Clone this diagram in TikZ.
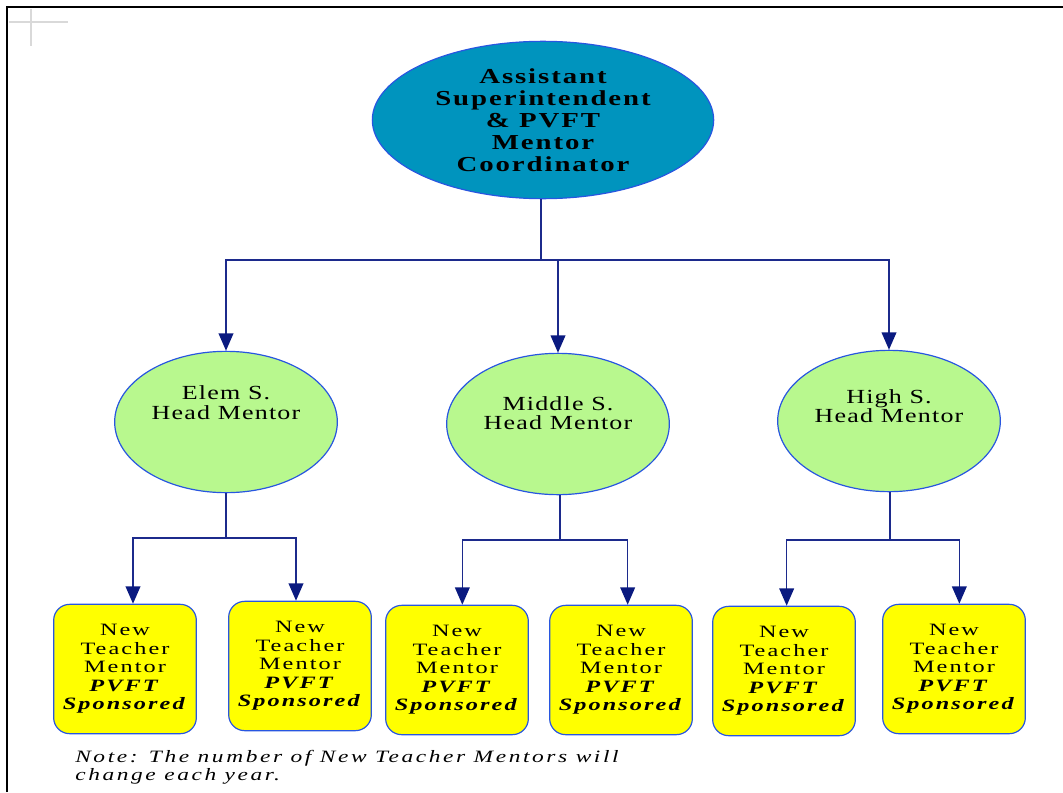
\documentclass[tikz,border=0pt]{standalone}
\usepackage{fontspec}
\setmainfont{Liberation Serif}
\newfontfamily\headfont{Liberation Serif}[FakeStretch=1.35,LetterSpace=9]
\newfontfamily\mentorfont{Liberation Serif}[FakeStretch=1.3,LetterSpace=6]
\newfontfamily\boxfont{Liberation Serif}[FakeStretch=1.4,LetterSpace=12]
\newfontfamily\notefont{Liberation Serif}[FakeStretch=1.35,LetterSpace=15]
\usetikzlibrary{shapes.geometric,arrows.meta}
\definecolor{headteal}{HTML}{0094BE}
\definecolor{mentorgreen}{HTML}{B8F88E}
\definecolor{newyellow}{HTML}{FFFF00}
\definecolor{rimblue}{HTML}{2856E0}
\definecolor{linknavy}{HTML}{1C2A8C}
\definecolor{tipnavy}{HTML}{0A1A80}
\tikzset{
    headnode/.style={
    ellipse,draw=rimblue,fill=headteal,line width=0.9pt,inner sep=0pt,
    minimum width=256pt,minimum height=118pt,align=center,
    font=\headfont\fontsize{16}{16.5}\selectfont\bfseries
    },
    mentornode/.style={
    ellipse,draw=rimblue,fill=mentorgreen,line width=0.9pt,inner sep=0pt,
    minimum width=167pt,minimum height=106pt
    },
    mentortext/.style={
    align=center,font=\mentorfont\fontsize{15}{14.3}\selectfont
    },
    newbox/.style={
    rectangle,rounded corners=12pt,draw=rimblue,fill=newyellow,line width=0.9pt,
    minimum width=107pt,minimum height=97pt,inner sep=0pt,align=center,
    font=\boxfont\fontsize{13}{13.9}\selectfont
    },
    link/.style={draw=linknavy,line width=1.2pt},
    arrowlink/.style={link,-{Triangle[width=11pt,length=13pt,color=tipnavy]}},
}
\newcommand{\newtext}{New\\Teacher\\Mentor\\\textbf{\textit{PVFT}}\\\textbf{\textit{Sponsored}}}

\begin{document}
\begin{tikzpicture}[x=0.75pt,y=-0.75pt]
  \useasboundingbox (0,0) rectangle (1063,792);
  % frame and page mark
  \draw[line width=2.2pt] (7,792) -- (7,7) -- (1063,7);
  \draw[black!15,line width=1.5pt] (9,22) -- (68,22) (31,9) -- (31,46);

  % top level
  \node[headnode] (ASST) at (543,120) {Assistant\\Superintendent\\\& PVFT\\Mentor\\Coordinator};

  % head mentors
  \node[mentornode,label={[mentortext,yshift=14.5pt]center:Elem S.\\Head Mentor}] (ELEM) at (226,422) {};
  \node[mentornode,label={[mentortext,yshift=8pt]center:Middle S.\\Head Mentor}] (MID) at (558,424) {};
  \node[mentornode,label={[mentortext,yshift=11pt]center:High S.\\Head Mentor}] (HIGH) at (889,421) {};

  % new teacher mentors
  \node[newbox] (E1) at (125,669) {\newtext};
  \node[newbox] (E2) at (300,666) {\newtext};
  \node[newbox] (M1) at (457,670) {\newtext};
  \node[newbox] (M2) at (621,670) {\newtext};
  \node[newbox] (H1) at (784,671) {\newtext};
  \node[newbox] (H2) at (954,669) {\newtext};

  % junctions
  \coordinate (ASSTj) at (541,260);
  \coordinate (ELEMj) at (226,538);
  \coordinate (MIDj) at (560,540);
  \coordinate (HIGHj) at (890,540);

  \draw[link] (ASST.south -| ASSTj) -- (ASSTj);
  \draw[arrowlink] (ASSTj) -| (ELEM.north);
  \draw[arrowlink] (ASSTj) -| (MID.north);
  \draw[arrowlink] (ASSTj) -| (HIGH.north);

  \draw[link] (ELEM.south) -- (ELEMj);
  \draw[arrowlink] (ELEMj) -| ([xshift=6pt]E1.north);
  \draw[arrowlink] (ELEMj) -| ([xshift=-3pt]E2.north);
  \draw[link] (MID.south -| MIDj) -- (MIDj);
  \draw[arrowlink] (MIDj) -| ([xshift=4pt]M1.north);
  \draw[arrowlink] (MIDj) -| ([xshift=5pt]M2.north);
  \draw[link] (HIGH.south -| HIGHj) -- (HIGHj);
  \draw[arrowlink] (HIGHj) -| ([xshift=2pt]H1.north);
  \draw[arrowlink] (HIGHj) -| ([xshift=4pt]H2.north);

  % note
  \node[anchor=north west,align=left,inner sep=0pt,
        font=\notefont\fontsize{13}{13.5}\selectfont\itshape] (NOTE) at (75,750)
        {Note: The number of New Teacher Mentors will\\change each year.};
\end{tikzpicture}
\end{document}
